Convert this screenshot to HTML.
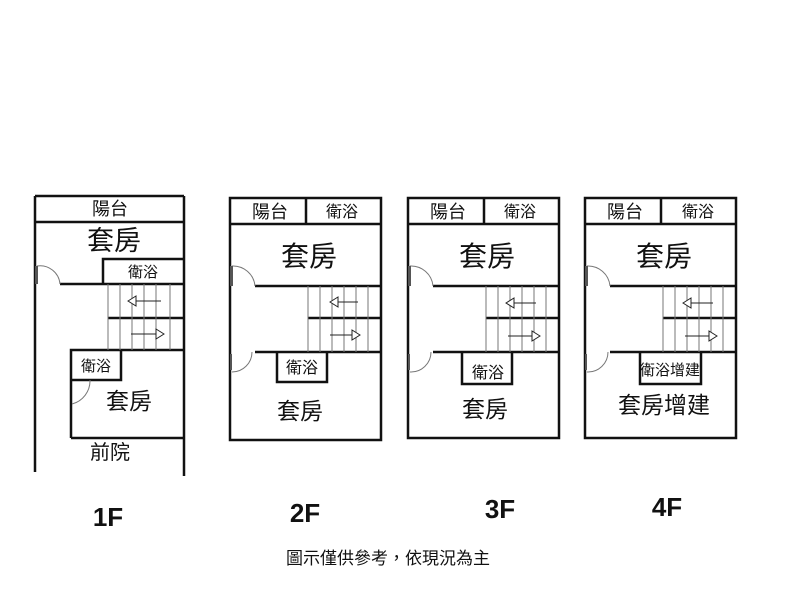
<!DOCTYPE html>
<html><head><meta charset="utf-8"><style>
body{margin:0;background:#fff;}
svg{display:block}
text{font-family:"Liberation Sans","Noto Sans CJK TC",sans-serif;fill:#111;}
.w{stroke:#111;stroke-width:2.5;fill:none}
.t{stroke:#777;stroke-width:1;fill:none}
.a{stroke:#222;stroke-width:1;fill:#fff}
.fl{font-weight:bold;font-size:26px;font-family:"Liberation Sans",sans-serif}
</style></head><body>
<svg width="800" height="600" viewBox="0 0 800 600">
<!-- 1F -->
<g>
<path class="w" d="M35 196 H184 M35 196 V472 M184 196 V476 M35 222 H184"/>
<path class="w" d="M103 284 V259 H184 M60 284 H184"/>
<path class="w" d="M108 318 H184 M71 438 V350 H184 M71 380 H121 V350 M71 438 H184"/>
<path class="t" d="M108 284 V350 M120 284 V350 M132 284 V350 M144 284 V350 M156 284 V350 M170 284 V350"/>
<path class="t" d="M37 266 A20 20 0 0 1 60 284 M72 404 A24 24 0 0 0 90 380"/>
<rect x="35" y="266" width="3" height="18" fill="#555"/>
<path class="a" d="M161 301 H136"/><path class="a" d="M128 301 L136 296 V306 Z"/>
<path class="a" d="M131 334 H156"/><path class="a" d="M164 334 L156 329 V339 Z"/>
<text x="110" y="215" font-size="18" text-anchor="middle">陽台</text>
<text x="114" y="250" font-size="27" text-anchor="middle">套房</text>
<text x="143" y="277" font-size="15" text-anchor="middle">衛浴</text>
<text x="96" y="371" font-size="15" text-anchor="middle">衛浴</text>
<text x="129" y="409" font-size="23" text-anchor="middle">套房</text>
<text x="110" y="459" font-size="20" text-anchor="middle">前院</text>
</g>
<!-- 2F -->
<g>
<path class="w" d="M230 198 H381 V440 H230 Z M230 224 H381 M306 198 V224"/>
<path class="w" d="M255 286 H381 M255 352 H381 M308 318 H381 M277 352 V382 H327 V352"/>
<path class="t" d="M308 286 V352 M320 286 V352 M332 286 V352 M344 286 V352 M356 286 V352 M368 286 V352"/>
<path class="t" d="M232 266 A22 22 0 0 1 255 286 M232 372 A20 20 0 0 0 252 352"/>
<rect x="230" y="266" width="3" height="20" fill="#555"/>
<rect x="230" y="354" width="2" height="16" fill="#555"/>
<path class="a" d="M358 302 H338"/><path class="a" d="M330 302 L338 297 V307 Z"/>
<path class="a" d="M330 335 H352"/><path class="a" d="M360 335 L352 330 V340 Z"/>
<text x="270" y="218" font-size="18" text-anchor="middle">陽台</text>
<text x="342" y="217" font-size="16" text-anchor="middle">衛浴</text>
<text x="309" y="266" font-size="28" text-anchor="middle">套房</text>
<text x="302" y="373" font-size="16" text-anchor="middle">衛浴</text>
<text x="300" y="419" font-size="23" text-anchor="middle">套房</text>
</g>
<!-- 3F -->
<g>
<path class="w" d="M408 198 H559 V438 H408 Z M408 224 H559 M484 198 V224"/>
<path class="w" d="M433 286 H559 M433 352 H559 M486 318 H559 M462 352 V384 H512 V352"/>
<path class="t" d="M486 286 V352 M498 286 V352 M510 286 V352 M522 286 V352 M534 286 V352 M546 286 V352"/>
<path class="t" d="M410 266 A22 22 0 0 1 433 286 M410 372 A20 20 0 0 0 431 352"/>
<rect x="408" y="266" width="3" height="20" fill="#555"/>
<rect x="408" y="354" width="2" height="16" fill="#555"/>
<path class="a" d="M536 303 H514"/><path class="a" d="M506 303 L514 298 V308 Z"/>
<path class="a" d="M508 336 H532"/><path class="a" d="M540 336 L532 331 V341 Z"/>
<text x="448" y="218" font-size="18" text-anchor="middle">陽台</text>
<text x="520" y="217" font-size="16" text-anchor="middle">衛浴</text>
<text x="487" y="266" font-size="28" text-anchor="middle">套房</text>
<text x="488" y="378" font-size="16" text-anchor="middle">衛浴</text>
<text x="485" y="417" font-size="23" text-anchor="middle">套房</text>
</g>
<!-- 4F -->
<g>
<path class="w" d="M585 198 H736 V438 H585 Z M585 224 H736 M661 198 V224"/>
<path class="w" d="M610 286 H736 M610 352 H736 M663 318 H736 M640 352 V384 H701 V352"/>
<path class="t" d="M663 286 V352 M675 286 V352 M687 286 V352 M699 286 V352 M711 286 V352 M723 286 V352"/>
<path class="t" d="M587 266 A22 22 0 0 1 610 286 M587 372 A20 20 0 0 0 608 352"/>
<rect x="585" y="266" width="3" height="20" fill="#555"/>
<rect x="585" y="354" width="2" height="16" fill="#555"/>
<path class="a" d="M713 303 H691"/><path class="a" d="M683 303 L691 298 V308 Z"/>
<path class="a" d="M685 336 H709"/><path class="a" d="M717 336 L709 331 V341 Z"/>
<text x="625" y="218" font-size="18" text-anchor="middle">陽台</text>
<text x="698" y="217" font-size="16" text-anchor="middle">衛浴</text>
<text x="664" y="266" font-size="28" text-anchor="middle">套房</text>
<text x="670" y="375" font-size="15" text-anchor="middle">衛浴增建</text>
<text x="664" y="413" font-size="23" text-anchor="middle">套房增建</text>
</g>
<text class="fl" x="108" y="526" text-anchor="middle">1F</text>
<text class="fl" x="305" y="522" text-anchor="middle">2F</text>
<text class="fl" x="500" y="518" text-anchor="middle">3F</text>
<text class="fl" x="667" y="516" text-anchor="middle">4F</text>
<text x="388" y="564" font-size="17" text-anchor="middle">圖示僅供參考，依現況為主</text>
</svg>
</body></html>
